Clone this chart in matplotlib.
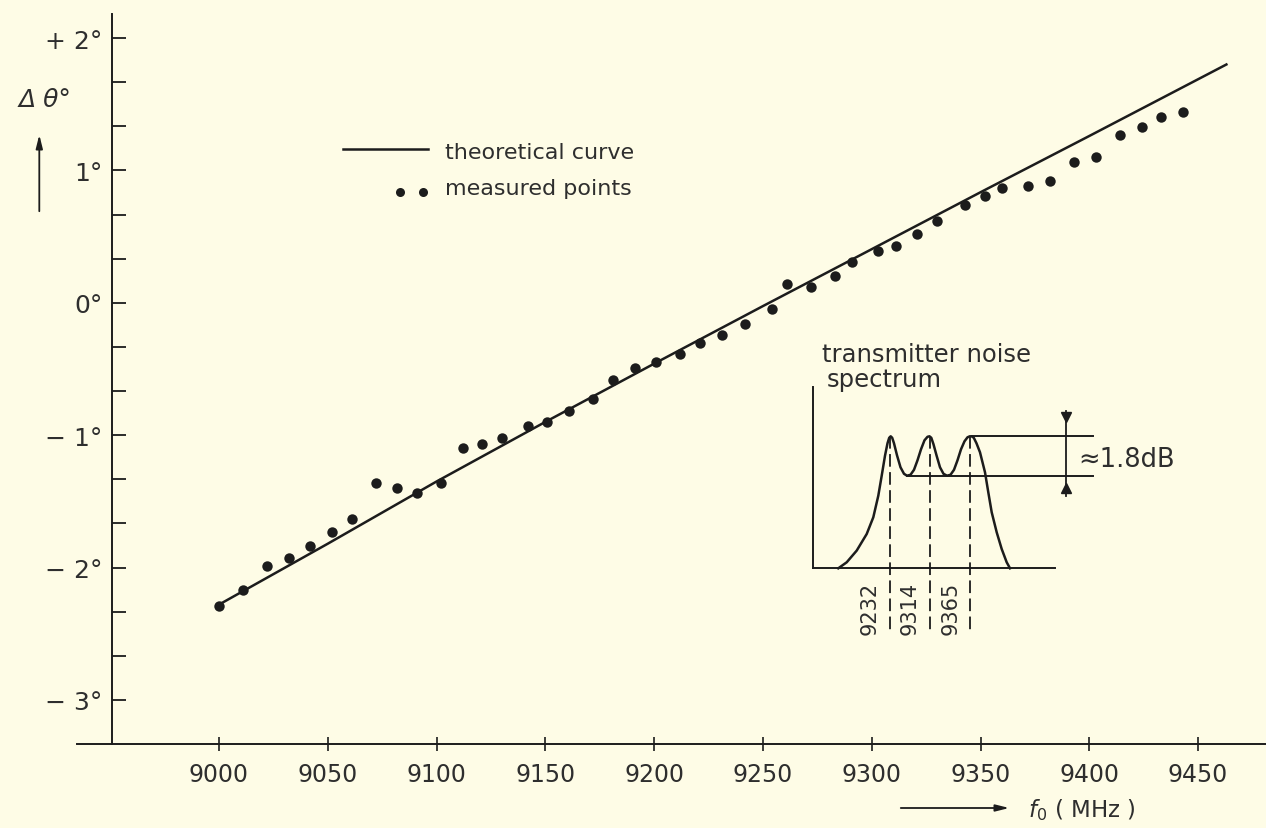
import numpy as np
import matplotlib
matplotlib.use('Agg')
import matplotlib.pyplot as plt
from matplotlib.ticker import FixedLocator

plt.rcParams['font.family'] = ['DejaVu Sans']
plt.rcParams['axes.unicode_minus'] = False

# measured phase error vs frequency
freq = [9000, 9011, 9022, 9032, 9042, 9052, 9061, 9072, 9082, 9091,
        9102, 9112, 9121, 9130, 9142, 9151, 9161, 9172, 9181, 9191,
        9201, 9212, 9221, 9231, 9242, 9254, 9261, 9272, 9283, 9291,
        9303, 9311, 9321, 9330, 9343, 9352, 9360, 9372, 9382, 9393,
        9403, 9414, 9424, 9433, 9443]
dtheta = [-2.29, -2.17, -1.99, -1.93, -1.84, -1.73, -1.63, -1.36, -1.40, -1.44,
          -1.36, -1.10, -1.07, -1.02, -0.93, -0.90, -0.82, -0.73, -0.58, -0.49,
          -0.45, -0.39, -0.30, -0.24, -0.16, -0.05, 0.14, 0.12, 0.20, 0.31,
          0.39, 0.43, 0.52, 0.62, 0.74, 0.81, 0.87, 0.88, 0.92, 1.06,
          1.10, 1.27, 1.33, 1.40, 1.44]

# theoretical curve
theory_f = [9000, 9050, 9100, 9150, 9200, 9250, 9300, 9350, 9400, 9463]
theory_dt = [-2.28, -1.82, -1.35, -0.90, -0.46, -0.025, 0.405, 0.835, 1.26, 1.80]

x_ticks = [9000, 9050, 9100, 9150, 9200, 9250, 9300, 9350, 9400, 9450]
y_ticks = [-3, -2, -1, 0, 1, 2]
y_labels = ['\u2212 3°', '\u2212 2°', '\u2212 1°', '0°', '1°', '+ 2°']

# inset: transmitter noise spectrum (schematic, drawing units)
spec_x = [25.3, 33.7, 43.7, 53.7, 60.3, 65.3, 68.7, 72, 74.5, 76.2, 77.7, 79.2, 81,
          84, 87.5, 91, 94, 97.5, 101, 104.5, 108, 111.5, 114.5, 116.5, 118.3, 120.5,
          123.5, 127, 130.5, 134, 137.5, 141, 144.5, 148, 151.5, 154.5, 156.8, 158.7,
          160.8, 163.5, 167, 172, 175.3, 178.7, 183.7, 188.7, 193.7, 197]
spec_h = [0, 6, 17.7, 34.3, 51, 72.6, 92.6, 112.6, 125, 130.5, 132, 130.5, 125,
          113, 101, 94.5, 92.6, 93.5, 98.5, 108, 119, 128, 131.5, 132, 130.5, 124,
          113, 101, 94.5, 92.6, 93.5, 98.5, 108, 119, 127, 131, 132, 132,
          130.5, 125, 116, 96, 76, 56, 36, 19.3, 6, 0]
peak_x = [76.5, 116.5, 157]
peak_labels = ['9232', '9314', '9365']
peak_level = 132
trough_level = 92.6

bg = '#fefce6'
ink = '#1c1c1c'
txt = '#2e2e2e'
W, H = 1266, 829


def fx(px):
    return px / W


def fy(py):
    return 1 - py / H


fig = plt.figure(figsize=(12.66, 8.29), dpi=100, facecolor=bg)
ax = fig.add_axes([0, 0, 1, 1])
ax.set_facecolor(bg)
ax.set_xlim(8899.4, 9481.2)
ax.set_ylim(-3.967, 2.2946)

ax.spines['top'].set_visible(False)
ax.spines['right'].set_visible(False)
ax.spines['left'].set_position(('data', 8951))
ax.spines['left'].set_bounds(-3.33, 2.18)
ax.spines['bottom'].set_position(('data', -3.33))
ax.spines['bottom'].set_bounds(8935, 9481.2)
for s in ['left', 'bottom']:
    ax.spines[s].set_linewidth(1.4)
    ax.spines[s].set_color(ink)

ax.set_xticks(x_ticks, labels=[str(v) for v in x_ticks])
ax.set_yticks(y_ticks, labels=y_labels)
ax.yaxis.set_minor_locator(FixedLocator([k / 3 for k in range(-9, 7) if k % 3]))
ax.tick_params(axis='y', which='both', direction='in', length=10, width=1.3,
               pad=7, labelsize=18, color=ink, labelcolor=txt)
ax.tick_params(axis='x', direction='inout', length=10, width=1.2,
               pad=8, labelsize=17, color=ink, labelcolor=txt)

ax.plot(theory_f, theory_dt, color=ink, lw=1.8)
ax.plot(freq, dtheta, 'o', ms=7.5, color=ink, mec='none')

# legend
ax.plot([fx(343), fx(428)], [fy(149.5), fy(149.5)], color=ink, lw=1.8,
        transform=fig.transFigure, clip_on=False)
ax.plot([fx(400), fx(423)], [fy(192.5), fy(192.5)], 'o', ms=6.5, color=ink, mec='none',
        transform=fig.transFigure, clip_on=False)
fig.text(fx(445), fy(153), 'theoretical curve', va='center', fontsize=16, color=txt)
fig.text(fx(445), fy(189), 'measured points', va='center', fontsize=16, color=txt)

# axis titles with arrows
fig.text(fx(45), fy(100), 'Δ θ°', ha='center', va='center', fontsize=18,
         style='italic', color=txt)
ax.annotate('', xy=(fx(39.3), fy(133)), xytext=(fx(39.3), fy(215)),
            xycoords='figure fraction', textcoords='figure fraction',
            arrowprops=dict(arrowstyle='-|>,head_length=0.8,head_width=0.2',
                            lw=1.3, color=ink))
ax.annotate('', xy=(fx(1012), fy(809)), xytext=(fx(898), fy(809)),
            xycoords='figure fraction', textcoords='figure fraction',
            arrowprops=dict(arrowstyle='-|>,head_length=0.8,head_width=0.2',
                            lw=1.3, color=ink))
fig.text(fx(1028), fy(810), r'$f_0$ ( MHz )', va='center', fontsize=16.5, color=txt)

# inset
ins = fig.add_axes([fx(813), fy(569.3), 242 / W, 181.3 / H])
ins.set_xlim(0, 242)
ins.set_ylim(0, 181.3)
ins.patch.set_alpha(0)
ins.spines['top'].set_visible(False)
ins.spines['right'].set_visible(False)
for s in ['left', 'bottom']:
    ins.spines[s].set_linewidth(1.4)
    ins.spines[s].set_color(ink)
ins.set_xticks([])
ins.set_yticks([])

ins.plot(spec_x, spec_h, color=ink, lw=1.8, clip_on=False, solid_joinstyle='round')
for px_, lab in zip(peak_x, peak_labels):
    ins.plot([px_, px_], [peak_level, -64], color=ink, lw=1.3, ls=(0, (7, 3)), clip_on=False)
    ins.text(px_ - 9.5, -12.7, lab, rotation=90, ha='right', va='top', fontsize=15,
             color=txt, clip_on=False)
ins.plot([158.7, 280], [peak_level, peak_level], color=ink, lw=1.4, clip_on=False)
ins.plot([93.7, 280], [trough_level, trough_level], color=ink, lw=1.4, clip_on=False)
ins.plot([252.7, 252.7], [72.6, 157.6], color=ink, lw=1.3, clip_on=False)
ins.plot([252.7], [151], 'v', ms=7, color=ink, clip_on=False)
ins.plot([252.7], [80], '^', ms=7, color=ink, clip_on=False)
ins.text(265, 109.3, '≈1.8dB', va='center', fontsize=18.5, color=txt, clip_on=False)
ins.text(8.7, 214.3, 'transmitter noise', va='center', fontsize=17.5, color=txt, clip_on=False)
ins.text(13.7, 189.3, 'spectrum', va='center', fontsize=17.5, color=txt, clip_on=False)

fig.savefig('out.png', dpi=100, facecolor=bg)
